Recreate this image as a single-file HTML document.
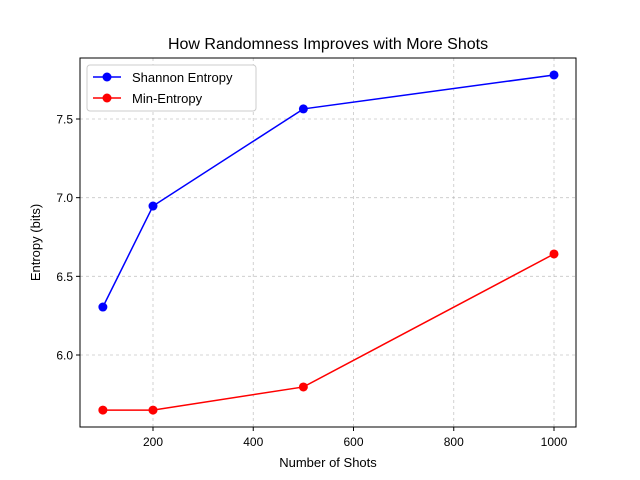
<!DOCTYPE html>
<html><head><meta charset="utf-8"><style>body{margin:0;background:#fff}svg{display:block;font-family:"Liberation Sans",sans-serif}</style></head>
<body>
<svg id="chart" width="640" height="480">
<rect x="0" y="0" width="640" height="480" fill="#fff"/>
<text x="328" y="49" font-size="16" text-anchor="middle">How Randomness Improves with More Shots</text>
<g id="grid"></g><g id="ticks"></g><g id="series"></g>
<rect x="80" y="58" width="496" height="369" fill="none" stroke="#000" stroke-width="1"/>
<text x="328" y="467" font-size="13" text-anchor="middle">Number of Shots</text>
<text transform="translate(40,242.5) rotate(-90)" font-size="13" text-anchor="middle">Entropy (bits)</text>
<g>
<rect x="87" y="65" width="169" height="46" rx="3" fill="#fff" stroke="#ccc"/>
<g><line x1="93" y1="77" x2="121" y2="77" stroke="blue" stroke-width="1.5"/><circle cx="107" cy="77" r="4.5" fill="blue"/><text x="132" y="82" font-size="13">Shannon Entropy</text></g>
<g><line x1="93" y1="98" x2="121" y2="98" stroke="red" stroke-width="1.5"/><circle cx="107" cy="98" r="4.5" fill="red"/><text x="132" y="103" font-size="13">Min-Entropy</text></g>
</g>
</svg>
<script>
const shots = [100, 200, 500, 1000];
const shannon = [6.305, 6.947, 7.564, 7.78];
const minEntropy = [5.65, 5.65, 5.797, 6.642];
const xTicks = [200, 400, 600, 800, 1000];
const yTicks = [6.0, 6.5, 7.0, 7.5];
const yTickLabels = ["6.0", "6.5", "7.0", "7.5"];
const NS = "http://www.w3.org/2000/svg";
function xs(v){return 52.75 + v*0.50125;}
function ys(v){return 355 - (v-6.0)*157.33;}
function mk(tag, attrs, parent){const e=document.createElementNS(NS,tag);for(const k in attrs)e.setAttribute(k,attrs[k]);parent.appendChild(e);return e;}
const grid=document.getElementById('grid'), ticks=document.getElementById('ticks'), series=document.getElementById('series');
xTicks.forEach(t=>{const x=xs(t);
 let g=mk('line',{x1:x,x2:x,y1:58,y2:427,stroke:'#b0b0b0','stroke-width':0.8,'stroke-dasharray':'3,3',opacity:0.7},grid);
 
 
 let l=mk('line',{x1:x,x2:x,y1:427,y2:431,stroke:'#000'},ticks);
 
 
 let tx=mk('text',{x:x,y:446,'font-size':12,'text-anchor':'middle'},ticks);tx.textContent=t;
 
 
});
yTicks.forEach((t,i)=>{const y=ys(t);
 let g=mk('line',{x1:80,x2:576,y1:y,y2:y,stroke:'#b0b0b0','stroke-width':0.8,'stroke-dasharray':'3,3',opacity:0.7},grid);
 
 
 let l=mk('line',{x1:76,x2:80,y1:y,y2:y,stroke:'#000'},ticks);
 
 
 let tx=mk('text',{x:73,y:y+4.5,'font-size':12,'text-anchor':'end'},ticks);tx.textContent=yTickLabels[i];
 
 
});
function draw(vals,color,name){
 const pts=shots.map((s,i)=>xs(s)+','+ys(vals[i])).join(' ');
 let pl=mk('polyline',{points:pts,fill:'none',stroke:color,'stroke-width':1.5},series);
 
 
 shots.forEach((s,i)=>{let c=mk('circle',{cx:xs(s),cy:ys(vals[i]),r:4.5,fill:color},series);
  
  });
}
draw(shannon,'blue','shannon');
draw(minEntropy,'red','min-entropy');
</script>
</body></html>
